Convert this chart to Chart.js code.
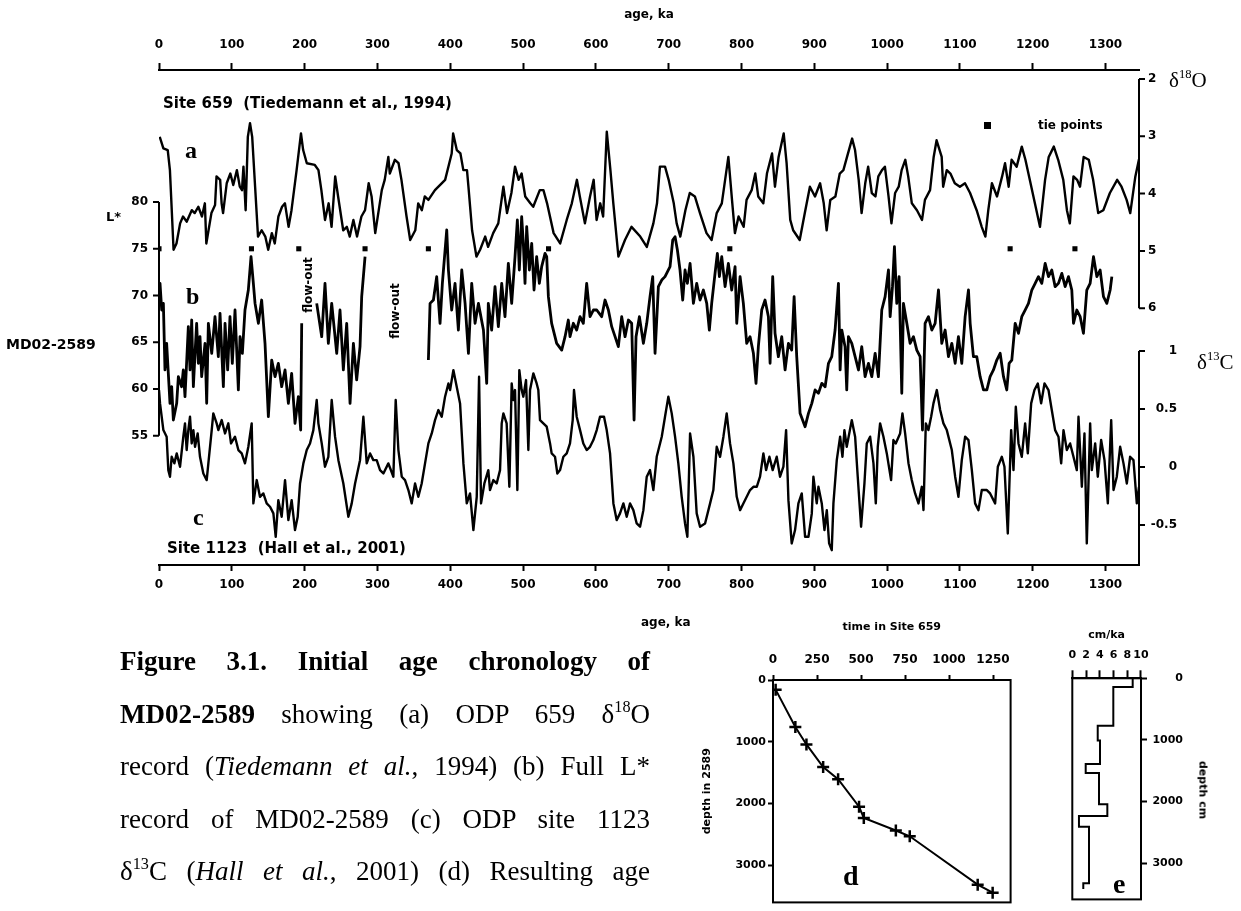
<!DOCTYPE html>
<html>
<head>
<meta charset="utf-8">
<title>Figure 3.1 – Initial age chronology of MD02-2589</title>
<script src="https://cdn.jsdelivr.net/npm/chart.js@4.4.1/dist/chart.umd.min.js"></script>
<style>
  html, body { margin:0; padding:0; background:#fff; }
  body { position:relative; width:1241px; height:911px; overflow:hidden; }
  canvas { position:absolute; }
  .t { position:absolute; color:#000; white-space:nowrap; line-height:1; font-family:"DejaVu Sans", sans-serif; font-weight:bold; transform:translateY(-50%); }
  .rot { transform:translate(-50%,-50%) rotate(-90deg); }
  .rotcw { transform:translate(-50%,-50%) rotate(90deg); }
  .serif { font-family:"Liberation Serif", "Times New Roman", serif; }
  sup { font-size:0.6em; line-height:0; vertical-align:0.65em; }
  #cap { position:absolute; left:120px; top:635px; width:530px; font-family:"Liberation Serif", "Times New Roman", serif; font-size:27px; line-height:52.6px; color:#000; }
  #cap div { text-align:justify; text-align-last:justify; height:52.6px; }
  .sq { position:absolute; width:7px; height:7px; background:#000; }
</style>
</head>
<body>
<canvas id="mainChart" width="1241" height="640" style="left:0;top:0;"></canvas>
<canvas id="chartD" width="340" height="296" style="left:690px;top:615px;"></canvas>
<canvas id="chartE" width="201" height="296" style="left:1040px;top:615px;"></canvas>

<div class="t" style="left:163px;top:103px;font-size:15px;">Site 659&nbsp;&nbsp;(Tiedemann et al., 1994)</div>
<div class="t serif" style="left:185px;top:150px;font-size:24px;">a</div>
<div class="t serif" style="left:186px;top:296px;font-size:24px;">b</div>
<div class="t serif" style="left:193px;top:517px;font-size:24px;">c</div>
<div class="t" style="left:167px;top:548px;font-size:15px;">Site 1123&nbsp;&nbsp;(Hall et al., 2001)</div>
<div class="t rot" style="left:308px;top:285px;font-size:12px;">flow-out</div>
<div class="t rot" style="left:395px;top:311px;font-size:12px;">flow-out</div>
<div class="t" style="left:106px;top:216px;font-size:13px;">L*</div>
<div class="t" style="left:6px;top:344px;font-size:14px;">MD02-2589</div>
<div class="t serif" style="left:1169px;top:80px;font-size:21px;font-weight:normal;">δ<sup>18</sup>O</div>
<div class="t serif" style="left:1197px;top:362px;font-size:21px;font-weight:normal;">δ<sup>13</sup>C</div>
<div class="sq" style="left:984px;top:122px;"></div>
<div class="t" style="left:1038px;top:125px;font-size:12px;">tie points</div>
<div class="t" style="left:641px;top:622px;font-size:12px;">age, ka</div>
<div class="t serif" style="left:843px;top:876px;font-size:28px;">d</div>
<div class="t serif" style="left:1113px;top:884px;font-size:28px;">e</div>
<div class="t rotcw" style="left:1203px;top:790px;font-size:11px;">depth cm</div>

<div id="cap">
  <div><b>Figure 3.1. Initial age chronology of</b></div>
  <div><b>MD02-2589</b> showing (a) ODP 659 δ<sup>18</sup>O</div>
  <div>record (<i>Tiedemann et al.</i>, 1994) (b) Full L*</div>
  <div>record of MD02-2589 (c) ODP site 1123</div>
  <div>δ<sup>13</sup>C (<i>Hall et al.</i>, 2001) (d) Resulting age</div>
</div>

<script>
// ---------------- DATA ----------------
const ageTicks = [0,100,200,300,400,500,600,700,800,900,1000,1100,1200,1300];
const lTicks = [80,75,70,65,60,55];
const oTicks = [2,3,4,5,6];
const cTicks = [1,0.5,0,-0.5];

// (a) ODP 659 d18O
const ageA = [1,6,12,15,20,24,29,33,38,45,49,54,59,63,65,72,77,79,84,86,88,93,98,102,107,111,114,116,119,122,125,128,132,136,141,146,150,155,159,164,169,173,178,182,189,195,198,203,214,219,223,228,233,237,242,246,253,258,262,267,272,278,283,288,292,297,306,310,315,317,324,329,333,340,345,352,356,361,365,370,379,393,402,404,409,414,418,423,425,430,436,441,448,
452,459,466,473,478,484,489,494,498,503,510,514,523,528,533,542,551,560,567,574,578,585,592,597,601,606,610,615,620,624,631,640,649,661,670,679,684,688,695,700,707,711,716,723,729,736,743,752,759,766,773,782,787,791,796,803,807,814,819,823,830,835,842,846,851,858,862,867,871,880,887,
894,901,908,913,917,922,929,935,940,945,952,956,961,965,970,974,979,984,988,993,997,1002,1006,1011,1016,1020,1025,1029,1034,1041,1048,1052,1059,1064,1068,1075,1077,1082,1087,1093,1100,1107,1114,1123,1130,1135,1139,1144,1151,1158,1162,1167,1171,1178,1185,1190,1196,1203,1210,1217,1222,1229,1235,1242,1247,1251,1256,1261,1265,1270,1277,1283,1290,1297,1306,1316,1322,1329,1334,1341,1346];
const d18O = [3.01,3.21,3.24,3.59,4.98,4.87,4.52,4.40,4.49,4.29,4.34,4.23,4.40,4.17,4.87,4.34,4.20,3.70,3.76,4.17,4.34,3.82,3.65,3.85,3.59,3.88,3.94,3.53,4.29,3.01,2.77,3.01,3.88,4.75,4.64,4.75,4.98,4.69,4.87,4.40,4.23,4.17,4.58,4.29,3.59,2.95,3.24,3.47,3.50,3.59,3.94,4.46,4.17,4.58,3.70,4.05,4.64,4.58,4.75,4.46,4.75,4.40,4.29,3.82,4.05,4.69,3.94,3.76,3.36,3.65,3.41,3.47,3.76,4.40,4.81,4.64,4.17,4.29,4.05,4.11,3.94,3.76,3.30,2.95,3.24,3.30,3.59,3.59,3.88,4.64,5.10,4.98,4.75,
4.93,4.69,4.52,3.88,4.34,3.99,3.53,3.76,3.65,4.05,4.17,4.23,3.94,3.94,4.17,4.69,4.87,4.46,4.17,3.76,4.05,4.52,4.05,3.76,4.46,4.17,4.40,2.92,3.59,4.17,5.10,4.81,4.58,4.75,4.93,4.52,4.17,3.53,3.53,3.76,4.17,4.52,4.75,4.29,3.99,4.05,4.34,4.69,4.81,4.34,4.17,3.36,4.11,4.69,4.40,4.58,4.11,3.94,3.65,4.05,4.17,3.65,3.30,3.88,3.36,2.95,3.47,4.46,4.64,4.81,4.34,
3.88,4.05,3.82,4.17,4.64,4.11,4.05,3.65,3.59,3.36,3.04,3.24,3.76,4.34,3.82,3.53,3.99,4.05,3.70,3.59,3.53,4.05,4.52,3.99,3.88,3.59,3.41,3.70,4.17,4.29,4.46,4.11,3.94,3.36,3.07,3.36,3.88,3.59,3.65,3.82,3.88,3.82,3.99,4.29,4.58,4.75,4.29,3.82,4.05,3.70,3.47,3.88,3.41,3.53,3.18,3.41,3.76,4.17,4.58,3.76,3.36,3.18,3.41,3.76,4.29,4.52,3.70,3.76,3.88,3.36,3.41,3.76,4.34,4.29,3.99,3.76,3.88,4.11,4.34,3.70,3.40];

// (b) MD02-2589 L*  (null = flow-out gaps)
const ageB = [0,1.4,3.7,6.0,8.2,10.5,15.1,17.4,19.7,24.3,26.6,31.1,33.4,35.7,40.3,42.6,44.9,47.2,49.5,51.7,54.0,56.3,58.6,63.2,65.5,67.8,72.4,76.9,81.5,83.8,88.4,90.7,94.3,97.5,100.7,104.4,109.0,111.3,114.5,118.1,122.7,126.4,129.6,131.9,136.5,141.0,145.6,150.2,154.8,159.4,163.9,168.5,173.1,177.7,182.2,186.8,191.4,194.6,196.0,
205,
216.6,223.5,228.0,232.6,237.2,244.1,248.6,253.2,257.8,262.4,267.0,271.5,276.1,278.4,283.0,
330,
370.0,372.3,376.9,381.4,386.0,389.2,395.2,397.5,402.0,406.6,411.2,415.8,420.4,425.0,429.5,434.1,438.7,445.6,
450.1,452.3,456.9,461.5,466.1,470.7,475.2,479.8,484.4,489.0,492.2,494.9,498.1,500.4,502.7,505.0,508.7,511.9,515.1,518.7,522.4,525.6,530.2,532.5,534.8,539.3,546.2,553.1,557.7,562.2,564.5,569.1,573.7,578.3,582.8,587.4,592.0,596.6,601.2,608.0,612.6,617.2,621.8,626.4,630.9,635.5,640.1,644.7,649.2,652.5,655.2,659.8,665.3,669.9,674.4,678.1,681.3,685.9,690.5,695.0,701.9,705.6,708.8,712.0,715.6,719.3,722.5,725.7,729.4,734.0,738.5,743.1,747.7,752.3,755.9,759.1,763.7,766.9,769.7,772.9,777.5,782.0,786.6,791.2,793.5,798.1,802.6,807.2,811.8,816.4,820.0,823.2,827.8,832.4,837.0,839.3,842.9,846.1,850.7,855.3,859.9,864.5,869.0,872.3,875.9,880.5,887.4,
892.0,896.6,901.1,905.7,910.3,914.9,919.5,924.0,928.6,933.2,935.5,937.8,942.3,944.6,946.9,951.5,956.1,960.7,965.2,969.8,974.4,979.0,983.6,988.1,992.7,997.3,1001.9,1004.2,1007.4,1010.1,1013.3,1016.5,1020.2,1022.5,1027.1,1031.6,1036.2,1040.8,1045.4,1048.6,1052.2,1056.8,1061.4,1066.0,1070.6,1075.1,1079.7,1084.3,1088.9,1093.5,1098.0,1102.6,1107.2,1111.8,1114.1,1118.6,1123.2,1127.8,1132.4,1137.0,1141.5,1146.1,1150.7,1155.3,1159.9,1164.4,1167.6,1171.3,1175.9,1180.5,1185.0,1189.6,1194.2,1198.8,1203.4,1207.9,1212.5,1217.1,1221.7,1226.2,1230.8,1235.4,1240.0,1244.6,1249.1,1253.7,1256.0,1260.6,1265.2,1269.7,1274.3,1278.9,1283.5,1288.1,1292.6,1297.2,1301.8,1306.4,1308.7];
const Lstar = [70.95,71.30,68.45,69.16,62.04,64.89,58.47,60.25,56.69,58.47,61.32,60.25,62.04,59.18,66.67,62.04,67.38,60.25,63.82,67.03,62.75,65.60,61.32,64.89,58.47,67.03,63.82,67.74,63.46,68.10,60.25,67.03,62.04,67.74,62.75,68.45,59.90,65.60,63.82,68.45,70.59,74.16,71.30,69.16,67.03,69.52,64.89,57.04,63.10,61.32,62.75,60.25,62.04,58.47,61.68,56.33,59.18,55.62,67.03,
null,
69.16,65.60,71.30,64.89,69.16,63.82,68.45,62.04,67.03,58.47,64.89,60.97,64.53,69.88,74.16,
null,
63.10,69.16,69.52,72.02,67.03,71.30,77.01,72.73,68.45,71.30,66.31,72.73,69.16,63.82,71.30,67.03,69.16,66.31,
60.61,69.16,66.31,70.95,66.67,71.30,67.74,73.44,69.16,74.16,78.08,72.73,78.43,75.58,71.30,77.36,72.73,75.58,70.59,74.16,71.30,73.09,74.51,74.16,69.88,67.03,64.89,64.17,65.60,67.38,65.60,67.03,66.31,67.74,67.03,71.30,67.74,68.45,68.45,67.74,69.52,68.45,66.67,65.60,64.53,67.74,65.60,67.38,67.03,56.69,65.60,67.74,64.89,67.03,69.88,72.02,63.82,70.95,71.66,72.02,73.09,75.94,76.29,74.87,72.73,69.52,72.73,71.30,73.44,69.16,71.30,69.52,70.59,69.16,66.31,69.16,72.37,74.51,72.02,74.16,70.95,73.44,70.59,73.09,67.03,72.02,69.16,64.89,65.60,63.82,60.61,64.53,68.45,69.52,67.74,62.75,72.02,65.96,63.46,65.60,62.04,64.89,64.17,69.88,63.46,57.40,55.97,
57.40,58.47,59.90,59.54,60.61,60.25,62.75,63.46,66.31,71.30,62.04,66.31,64.53,59.90,65.60,64.89,63.46,62.04,64.53,61.32,62.75,61.32,63.82,61.32,68.45,69.88,72.73,67.74,70.95,75.23,69.16,72.02,59.54,69.16,67.03,64.89,65.60,64.17,63.46,55.62,67.03,67.74,66.31,67.03,70.59,64.89,66.31,63.46,64.89,62.75,65.60,62.75,67.74,70.59,67.03,63.46,63.46,61.32,59.90,59.90,61.32,62.04,63.10,63.82,61.32,59.90,62.75,63.10,67.03,65.96,67.74,68.45,69.16,70.59,71.30,72.02,71.30,73.44,72.02,72.73,70.95,71.30,72.37,70.95,72.02,70.59,67.03,68.45,67.74,65.96,70.59,71.30,74.16,72.02,72.73,69.88,69.16,70.59,72.02];

// (c) ODP 1123 d13C
const ageC = [0,1.4,6.0,10.5,12.8,15.1,17.4,21.1,24.3,28.9,33.4,35.7,38.0,40.3,42.6,44.9,47.2,49.5,53.1,56.3,60.9,65.5,67.8,72.4,74.6,79.2,81.5,86.1,90.7,95.2,98.9,104.4,109.0,113.6,118.1,122.7,127.3,129.6,134.2,138.7,143.3,147.9,152.5,157.1,160.3,163.9,168.5,173.1,177.7,182.2,186.8,190.5,193.7,198.3,202.9,207.4,212.0,216.6,218.9,223.5,228.0,232.6,237.2,241.8,246.4,253.2,260.1,264.7,269.3,276.1,280.7,285.3,289.9,294.4,299.0,303.6,308.2,315.0,321.9,325.1,328.8,333.4,337.9,342.5,347.1,351.7,356.2,360.8,365.4,370.0,374.6,379.1,383.7,388.3,392.9,397.5,399.8,404.3,408.9,413.5,418.1,422.7,427.2,431.8,436.4,439.6,442.3,446.9,
452.3,454.6,459.2,463.8,468.4,470.7,473.0,477.5,481.2,484.4,486.7,489.0,492.2,494.9,498.1,500.4,504.1,507.3,509.6,514.2,518.7,521.0,523.3,527.9,532.5,537.1,539.3,543.9,547.1,550.8,555.4,560.0,564.5,568.2,570.0,573.7,578.3,582.8,587.4,592.0,596.6,601.2,605.7,611.2,614.9,619.5,624.1,628.6,633.2,637.8,642.4,647.0,651.5,656.1,660.7,665.3,669.9,674.4,679.0,683.6,690.5,695.0,699.6,704.2,708.8,713.3,717.9,722.5,725.7,729.4,734.0,738.5,743.1,750.0,756.9,761.4,766.0,770.6,775.2,779.7,784.3,788.9,793.5,798.1,802.6,807.2,811.8,816.4,821.0,825.5,830.1,833.8,838.4,842.9,848.4,853.0,857.6,861.3,864.5,869.0,873.6,878.2,882.8,887.4,
892.0,896.6,898.8,903.4,905.7,910.3,914.0,917.2,920.4,924.0,926.3,930.9,935.5,938.7,941.4,944.6,951.5,956.1,959.7,964.3,968.9,972.1,976.7,981.3,984.5,987.2,990.4,995.0,999.6,1005.5,1008.7,1011.9,1017.9,1021.1,1024.8,1029.4,1033.9,1038.5,1043.1,1047.7,1050.0,1053.2,1056.8,1060.5,1063.7,1068.3,1072.9,1077.4,1082.0,1088.9,1093.5,1098.0,1102.6,1107.2,1111.8,1116.4,1120.9,1125.5,1130.1,1137.0,1141.5,1148.4,1152.1,1157.6,1161.2,1165.8,1170.4,1173.6,1176.8,1180.5,1185.0,1189.6,1193.3,1197.9,1202.4,1207.0,1211.6,1216.2,1221.7,1226.2,1230.8,1235.4,1239.1,1242.3,1246.9,1251.4,1256.0,1260.6,1262.9,1267.5,1271.1,1274.3,1278.9,1281.2,1285.8,1289.4,1294.0,1298.6,1303.2,1307.8,1311.0,1315.5,1320.1,1324.7,1329.3,1333.8,1338.4,1343.0,1346];
const d13C = [0.663,0.548,0.318,0.261,-0.027,-0.084,0.088,0.031,0.117,0.002,0.261,0.376,0.146,0.318,0.433,0.203,0.318,0.174,0.289,0.088,-0.056,-0.113,0.031,0.318,0.462,0.376,0.318,0.404,0.289,0.376,0.203,0.261,0.146,0.117,0.031,0.174,0.376,-0.314,-0.113,-0.257,-0.228,-0.314,-0.343,-0.400,-0.602,-0.286,-0.429,-0.113,-0.458,-0.286,-0.544,-0.429,-0.142,0.031,0.146,0.203,0.318,0.577,0.376,0.203,0.002,0.088,0.577,0.261,0.059,-0.142,-0.429,-0.314,-0.142,0.059,0.433,0.031,0.117,0.059,0.059,-0.027,-0.056,0.031,-0.084,0.577,0.146,-0.084,-0.113,-0.199,-0.314,-0.142,-0.257,-0.142,0.031,0.203,0.289,0.404,0.491,0.433,0.606,0.720,0.663,0.835,0.692,0.548,0.031,-0.314,-0.228,-0.544,-0.257,0.778,-0.314,-0.142,
-0.027,-0.199,-0.113,-0.142,-0.027,0.376,0.462,0.376,-0.171,0.720,0.577,0.663,-0.199,0.835,0.663,0.606,0.749,0.146,0.663,0.807,0.720,0.663,0.404,0.376,0.347,0.203,0.117,0.088,-0.056,-0.027,0.088,0.117,0.203,0.404,0.663,0.433,0.318,0.203,0.146,0.174,0.232,0.318,0.433,0.433,0.318,0.117,-0.314,-0.458,-0.400,-0.314,-0.429,-0.314,-0.372,-0.487,-0.515,-0.372,-0.084,-0.027,-0.199,0.088,0.261,0.433,0.606,0.462,0.261,0.031,-0.257,-0.487,-0.602,0.289,0.088,-0.400,-0.515,-0.487,-0.314,-0.199,0.174,0.088,0.261,0.462,0.203,0.031,-0.257,-0.372,-0.314,-0.257,-0.199,-0.171,-0.171,-0.084,0.117,-0.027,0.088,-0.027,0.088,-0.084,0.002,0.318,-0.286,-0.659,-0.544,-0.314,-0.228,-0.602,
-0.602,-0.400,-0.084,-0.314,-0.171,-0.314,-0.544,-0.372,-0.659,-0.717,-0.314,0.059,0.261,0.088,0.318,0.174,0.404,0.261,-0.084,-0.515,-0.142,0.203,0.261,0.031,-0.314,0.174,0.376,0.261,0.117,-0.113,0.232,0.203,0.289,0.462,0.289,0.031,-0.113,-0.228,-0.314,-0.171,-0.372,0.376,0.318,0.433,0.548,0.663,0.491,0.376,0.318,0.146,-0.084,-0.257,0.059,0.261,0.232,-0.027,-0.314,-0.372,-0.199,-0.199,-0.228,-0.314,0.002,0.088,0.002,-0.573,0.318,-0.027,0.519,0.203,0.088,0.376,0.117,0.548,0.663,0.720,0.548,0.720,0.663,0.491,0.318,0.261,0.031,0.318,0.146,0.203,0.088,-0.027,0.433,-0.171,0.289,-0.659,0.376,-0.027,0.203,-0.084,0.232,0.059,-0.314,0.404,-0.199,-0.084,0.174,0.031,-0.142,0.088,0.059,-0.314,-0.171];

// tie points (age, plotted on L* = 75 level)
const tieAge = [0,127,192,283,370,535,784,1169,1258];
const tieLevel = [75,75,75,75,75,75,75,75,75];

// (d) age model: time in Site 659 vs depth in MD02-2589
const dTime = [15,127,190,285,370,489,516,698,777,1163,1248];
const dDepth = [156,762,1043,1408,1606,2050,2233,2436,2530,3313,3443];
const dTimeTicks = [0,250,500,750,1000,1250];
const depthTicks = [0,1000,2000,3000];

// (e) sedimentation rate (cm/ka) per depth interval
const eRate = [8.79,5.97,3.70,4.03,1.95,3.89,5.10,0.97,2.43,1.60];
const eTop = [0,141,770,1010,1388,1534,2041,2235,2408,3323];
const eBottom = 3418;
const eRateTicks = [0,2,4,6,8,10];

// ---------------- CHARTS ----------------
Chart.defaults.font.family = "'DejaVu Sans', sans-serif";
Chart.defaults.font.weight = 'bold';
Chart.defaults.color = '#000';

const pts = (xs, ys) => xs.map((x, i) => ({x: x, y: ys[i]}));
const fixedTicks = list => (axis => { axis.ticks = list.map(v => ({value: v})); });
const plainLabel = v => String(v);

const mainAxesPlugin = {
  id: 'mainAxes',
  afterDraw(chart) {
    const {ctx, chartArea} = chart;
    const {left, right, bottom} = chartArea;
    const yL = chart.scales.yL, yO = chart.scales.yO, yC = chart.scales.yC;
    ctx.save();
    ctx.strokeStyle = '#000'; ctx.fillStyle = '#000'; ctx.lineWidth = 2;
    ctx.font = "bold 12px 'DejaVu Sans'";
    ctx.textBaseline = 'middle';
    // L* (left)
    ctx.beginPath();
    ctx.moveTo(left, yL.getPixelForValue(Math.max(...lTicks)));
    ctx.lineTo(left, yL.getPixelForValue(Math.min(...lTicks)));
    lTicks.forEach(v => { const y = yL.getPixelForValue(v); ctx.moveTo(left - 6, y); ctx.lineTo(left, y); });
    ctx.stroke();
    ctx.textAlign = 'right';
    lTicks.forEach(v => ctx.fillText(String(v), left - 11, yL.getPixelForValue(v)));
    // d18O (right, upper)
    ctx.beginPath();
    ctx.moveTo(right, yO.getPixelForValue(Math.min(...oTicks)));
    ctx.lineTo(right, yO.getPixelForValue(Math.max(...oTicks)));
    oTicks.forEach(v => { const y = yO.getPixelForValue(v); ctx.moveTo(right, y); ctx.lineTo(right + 6, y); });
    ctx.stroke();
    ctx.textAlign = 'left';
    oTicks.forEach(v => ctx.fillText(String(v), right + 9, yO.getPixelForValue(v)));
    // d13C (right, lower)
    ctx.beginPath();
    ctx.moveTo(right, yC.getPixelForValue(Math.max(...cTicks)));
    ctx.lineTo(right, bottom);
    cTicks.forEach(v => { const y = yC.getPixelForValue(v); ctx.moveTo(right, y); ctx.lineTo(right + 6, y); });
    ctx.stroke();
    ctx.textAlign = 'right';
    cTicks.forEach(v => ctx.fillText(String(v), right + 38, yC.getPixelForValue(v)));
    ctx.restore();
  }
};

const boxPlugin = {
  id: 'box',
  afterDraw(chart) {
    const {ctx, chartArea: a} = chart;
    ctx.save();
    ctx.strokeStyle = '#000'; ctx.lineWidth = 2;
    ctx.strokeRect(a.left, a.top, a.right - a.left, a.bottom - a.top);
    ctx.restore();
  }
};

function xAxis(pos, height, tl, pad, size, list, extra) {
  return Object.assign({
    type: 'linear', position: pos,
    afterFit: s => { s.height = height; },
    afterBuildTicks: fixedTicks(list),
    grid: { drawOnChartArea: false, drawTicks: true, tickLength: tl, tickWidth: 2, color: '#000' },
    border: { display: true, color: '#000', width: 2 },
    ticks: { padding: pad, font: { size: size, weight: 'bold' }, color: '#000', autoSkip: false, maxRotation: 0, callback: plainLabel }
  }, extra);
}

const lineStyle = { borderColor: '#000', borderWidth: 2.4, pointRadius: 0, tension: 0, fill: false, spanGaps: false, borderJoinStyle: 'round' };

new Chart(document.getElementById('mainChart'), {
  type: 'line',
  data: {
    datasets: [
      Object.assign({ label: 'Site 659 δ18O', data: pts(ageA, d18O), xAxisID: 'x', yAxisID: 'yO' }, lineStyle),
      Object.assign({ label: 'MD02-2589 L*', data: pts(ageB, Lstar), xAxisID: 'x', yAxisID: 'yL' }, lineStyle, { borderWidth: 2.8 }),
      Object.assign({ label: 'Site 1123 δ13C', data: pts(ageC, d13C), xAxisID: 'x', yAxisID: 'yC' }, lineStyle),
      { label: 'tie points', data: pts(tieAge, tieLevel), xAxisID: 'x', yAxisID: 'yL', showLine: false,
        pointStyle: 'rect', pointRadius: 3.6, backgroundColor: '#000', borderColor: '#000', pointBorderWidth: 0 }
    ]
  },
  options: {
    responsive: false, animation: false, devicePixelRatio: 1,
    layout: { padding: { left: 159, right: 102, top: 0, bottom: 0 } },
    plugins: { legend: { display: false }, tooltip: { enabled: false } },
    scales: {
      x: xAxis('bottom', 75, 6, 7, 12, ageTicks, { min: 0, max: 1346 }),
      x2: xAxis('top', 70, 7, 11, 12, ageTicks, { min: 0, max: 1346,
            title: { display: true, text: 'age, ka', font: { size: 12, weight: 'bold' }, padding: { top: 8, bottom: 0 } } }),
      yO: { display: false, reverse: true, min: 1.843, max: 10.482 },
      yL: { display: false, min: 41.18, max: 94.12 },
      yC: { display: false, min: -0.845, max: 3.422 }
    }
  },
  plugins: [mainAxesPlugin]
});

new Chart(document.getElementById('chartD'), {
  type: 'line',
  data: { datasets: [{ label: 'age model', data: pts(dTime, dDepth), borderColor: '#000', borderWidth: 2,
    pointStyle: 'cross', pointRadius: 6, pointBorderWidth: 2.5, pointBorderColor: '#000', tension: 0 }] },
  options: {
    responsive: false, animation: false, devicePixelRatio: 1,
    layout: { padding: { left: 0, right: 19.4, top: 0, bottom: 1 } },
    plugins: { legend: { display: false }, tooltip: { enabled: false } },
    scales: {
      x: xAxis('top', 65, 5, 8, 12, dTimeTicks, { min: 0, max: 1350,
          title: { display: true, text: 'time in Site 659', font: { size: 11, weight: 'bold' }, padding: { top: 6, bottom: 0 } } }),
      y: { type: 'linear', position: 'left', reverse: true, min: 0, max: 3600,
           afterFit: s => { s.width = 83; }, afterBuildTicks: fixedTicks(depthTicks),
           grid: { drawOnChartArea: false, tickLength: 5, tickWidth: 2, color: '#000' },
           border: { color: '#000', width: 2 },
           ticks: { padding: 2, font: { size: 11, weight: 'bold' }, color: '#000', autoSkip: false, callback: plainLabel },
           title: { display: true, text: 'depth in 2589', font: { size: 11, weight: 'bold' }, padding: { top: 11, bottom: 0 } } }
    }
  },
  plugins: [boxPlugin]
});

const eData = pts(eRate, eTop).concat([{ x: eRate[eRate.length - 1], y: eBottom }]);
new Chart(document.getElementById('chartE'), {
  type: 'line',
  data: { datasets: [{ label: 'cm/ka', data: eData, stepped: 'after', borderColor: '#000', borderWidth: 2, pointRadius: 0 }] },
  options: {
    responsive: false, animation: false, devicePixelRatio: 1,
    layout: { padding: { left: 32.3, right: 58, top: 0, bottom: 4.3 } },
    plugins: { legend: { display: false }, tooltip: { enabled: false } },
    scales: {
      x: xAxis('top', 63.3, 8, 8.7, 11, eRateTicks, { min: 0, max: 10,
          title: { display: true, text: 'cm/ka', font: { size: 11, weight: 'bold' }, padding: { top: 13.4, bottom: 0 } } }),
      y: { type: 'linear', position: 'right', reverse: true, min: 0, max: 3586,
           afterFit: s => { s.width = 42; }, afterBuildTicks: fixedTicks(depthTicks),
           grid: { drawOnChartArea: false, tickLength: 6, tickWidth: 2, color: '#000' },
           border: { color: '#000', width: 2 },
           ticks: { padding: 5, crossAlign: 'far', font: { size: 11, weight: 'bold' }, color: '#000', autoSkip: false, callback: plainLabel } }
    }
  },
  plugins: [boxPlugin]
});
</script>
</body>
</html>
